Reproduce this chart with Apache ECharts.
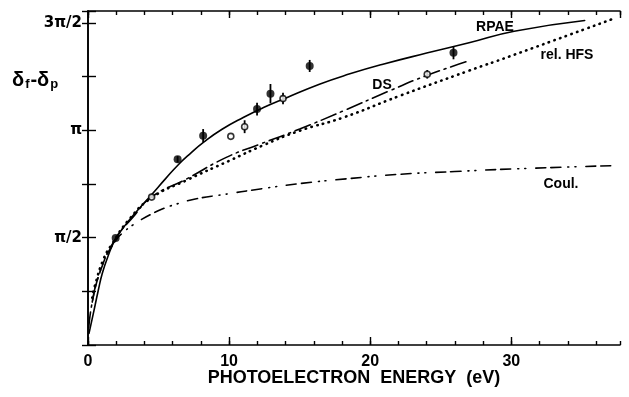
<!DOCTYPE html>
<html>
<head>
<meta charset="utf-8">
<script src="https://cdn.jsdelivr.net/npm/echarts@6/dist/echarts.min.js"></script>
<style>
  html, body { margin: 0; padding: 0; background: #fff; }
  #chart { width: 629px; height: 397px; }
</style>
</head>
<body>
<div id="chart"></div>
<script>
// phase difference in units of pi, energy in eV
const rpaeE = [0.07, 0.38, 0.73, 1.01, 1.4, 1.9, 2.6, 3.3, 4.5, 5.5, 6.4, 7.3, 8.2, 9.5, 11, 12.4, 14, 16.4, 18.5, 20.9, 24, 27, 30.2, 35.2];
const rpaeV = [0.054, 0.147, 0.255, 0.333, 0.41, 0.487, 0.555, 0.611, 0.70, 0.775, 0.84, 0.895, 0.945, 1.005, 1.06, 1.105, 1.15, 1.215, 1.262, 1.308, 1.36, 1.408, 1.462, 1.512];

const dsE = [0.05, 0.3, 0.8, 1.9, 3.2, 4.5, 7.0, 9.8, 12.2, 15.0, 18.1, 21.4, 24.1, 27.1];
const dsV = [0.08, 0.2, 0.33, 0.49, 0.596, 0.689, 0.774, 0.874, 0.936, 1.006, 1.091, 1.185, 1.258, 1.326];

const hfsE = [0.3, 0.5, 1.1, 1.7, 2.85, 4.5, 7, 10, 12.4, 15, 18.1, 22.1, 27, 29.9, 37.4];
const hfsV = [0.22, 0.279, 0.40, 0.47, 0.58, 0.685, 0.768, 0.858, 0.93, 0.998, 1.06, 1.161, 1.278, 1.345, 1.524];

const coulE = [0.3, 1.0, 2.0, 2.6, 3.2, 3.8, 4.5, 5.3, 6.2, 7.6, 9.5, 12.2, 15, 18.3, 22, 26, 30, 37.4];
const coulV = [0.2, 0.37, 0.49, 0.53, 0.56, 0.585, 0.61, 0.635, 0.655, 0.68, 0.70, 0.727, 0.752, 0.774, 0.795, 0.808, 0.82, 0.836];

// experimental points: filled and open circles with error bars
const filledE = [1.96, 6.35, 8.16, 11.98, 12.93, 15.71, 25.9];
const filledV = [0.498, 0.865, 0.975, 1.099, 1.171, 1.30, 1.362];
const filledErr = [0, 0.015, 0.031, 0.03, 0.045, 0.028, 0.031];

const openE = [4.51, 10.12, 11.1, 13.82, 24.04];
const openV = [0.689, 0.972, 1.017, 1.148, 1.261];
const openErr = [0, 0, 0.03, 0.027, 0.02];

const yTickLabels = { '0.5': 'π/2', '1': 'π', '1.5': '3π/2' };

const zip = (a, b) => a.map((v, i) => [v, b[i]]);
const zip3 = (a, b, c) => a.map((v, i) => [v, b[i], c[i]]);

const X_MAX = 37.7;
const Y_MAX = 1.556;
const FONT = '"Liberation Sans", Arial, sans-serif';

const lineSeries = (name, data, type, width) => ({
  name: name,
  type: 'line',
  data: data,
  showSymbol: false,
  smooth: 0.5,
  lineStyle: { color: '#000', width: width, type: type, cap: 'round' },
  z: 3,
});

const errorBars = (data) => ({
  type: 'custom',
  data: data,
  renderItem: (params, api) => {
    const x = api.value(0), y = api.value(1), e = api.value(2);
    const p1 = api.coord([x, y - e]);
    const p2 = api.coord([x, y + e]);
    return {
      type: 'line',
      shape: { x1: p1[0], y1: p1[1], x2: p2[0], y2: p2[1] },
      style: { stroke: '#000', lineWidth: 1.8 },
    };
  },
  z: 4,
});

const xAxisBase = (position, interval, len, showLine) => ({
  type: 'value',
  position: position,
  min: 0,
  max: X_MAX,
  interval: interval,
  splitLine: { show: false },
  axisLine: { show: showLine, onZero: false, lineStyle: { color: '#000', width: 1.6 } },
  axisTick: { show: true, inside: true, length: len, lineStyle: { color: '#000', width: 1.4 } },
  axisLabel: { show: false },
});

const getOption = () => {
  const xMain = xAxisBase('bottom', 10, 8, true);
  xMain.axisLabel = {
    show: true,
    showMaxLabel: false,
    color: '#000',
    fontFamily: FONT,
    fontWeight: 'bold',
    fontSize: 16,
    margin: 9,
  };
  return {
    backgroundColor: '#fff',
    animation: false,
    grid: { left: 88, right: 9, top: 11, bottom: 52 },
    xAxis: [
      xMain,
      xAxisBase('bottom', 2, 4, false),
      xAxisBase('top', 10, 7, true),
      xAxisBase('top', 2, 4, false),
    ],
    yAxis: [
      {
        type: 'value',
        position: 'left',
        min: 0,
        max: Y_MAX,
        interval: 0.25,
        splitLine: { show: false },
        axisLine: { show: true, lineStyle: { color: '#000', width: 1.6 } },
        axisTick: { show: true, inside: true, length: 8, lineStyle: { color: '#000', width: 1.4 } },
        axisLabel: {
          color: '#000',
          fontFamily: '"DejaVu Sans", sans-serif',
          fontWeight: 'bold',
          fontSize: 15,
          margin: 6,
          formatter: (v) => yTickLabels[String(Math.round(v * 100) / 100)] || '',
        },
      },
      {
        type: 'value',
        position: 'right',
        min: 0,
        max: Y_MAX,
        interval: 0.25,
        splitLine: { show: false },
        axisLine: { show: true, lineStyle: { color: '#000', width: 1.6 } },
        axisTick: { show: true, inside: true, length: 6, lineStyle: { color: '#000', width: 1.4 } },
        axisLabel: { show: false },
      },
    ],
    series: [
      lineSeries('RPAE', zip(rpaeE, rpaeV), 'solid', 1.6),
      lineSeries('DS', zip(dsE, dsV), [16, 5, 2, 5], 1.6),
      lineSeries('rel. HFS', zip(hfsE, hfsV), [0.5, 5.5], 2.6),
      lineSeries('Coul.', zip(coulE, coulV), [10, 5, 10, 7, 1, 6, 1, 10], 1.6),
      errorBars(zip3(filledE, filledV, filledErr)),
      errorBars(zip3(openE, openV, openErr)),
      {
        type: 'scatter',
        data: zip(filledE, filledV),
        symbol: 'circle',
        symbolSize: 8,
        itemStyle: { color: '#000' },
        z: 5,
      },
      {
        type: 'scatter',
        data: zip(openE, openV),
        symbol: 'circle',
        symbolSize: 6,
        itemStyle: { color: '#fff', borderColor: '#000', borderWidth: 1.6 },
        z: 5,
      },
    ],
    graphic: [
      {
        type: 'text', x: 12, y: 80,
        style: {
          text: 'δ{s|f}-δ{s|p}',
          font: 'bold 20px ' + FONT,
          fill: '#000',
          textVerticalAlign: 'middle',
          rich: { s: { font: 'bold 13px ' + FONT, fill: '#000', verticalAlign: 'bottom', padding: [9, 1, 0, 1] } },
        },
      },
      { type: 'text', x: 354, y: 378, style: { text: 'PHOTOELECTRON  ENERGY  (eV)', font: 'bold 18px ' + FONT, fill: '#000', textAlign: 'center', textVerticalAlign: 'middle' } },
      { type: 'text', x: 495, y: 27, style: { text: 'RPAE', font: 'bold 14px ' + FONT, fill: '#000', textAlign: 'center', textVerticalAlign: 'middle' } },
      { type: 'text', x: 567, y: 55, style: { text: 'rel. HFS', font: 'bold 14px ' + FONT, fill: '#000', textAlign: 'center', textVerticalAlign: 'middle' } },
      { type: 'text', x: 382, y: 85, style: { text: 'DS', font: 'bold 14px ' + FONT, fill: '#000', textAlign: 'center', textVerticalAlign: 'middle' } },
      { type: 'text', x: 561, y: 184, style: { text: 'Coul.', font: 'bold 14px ' + FONT, fill: '#000', textAlign: 'center', textVerticalAlign: 'middle' } },
    ],
  };
};

const chart = echarts.init(document.getElementById('chart'));
chart.setOption(getOption());
</script>
</body>
</html>
